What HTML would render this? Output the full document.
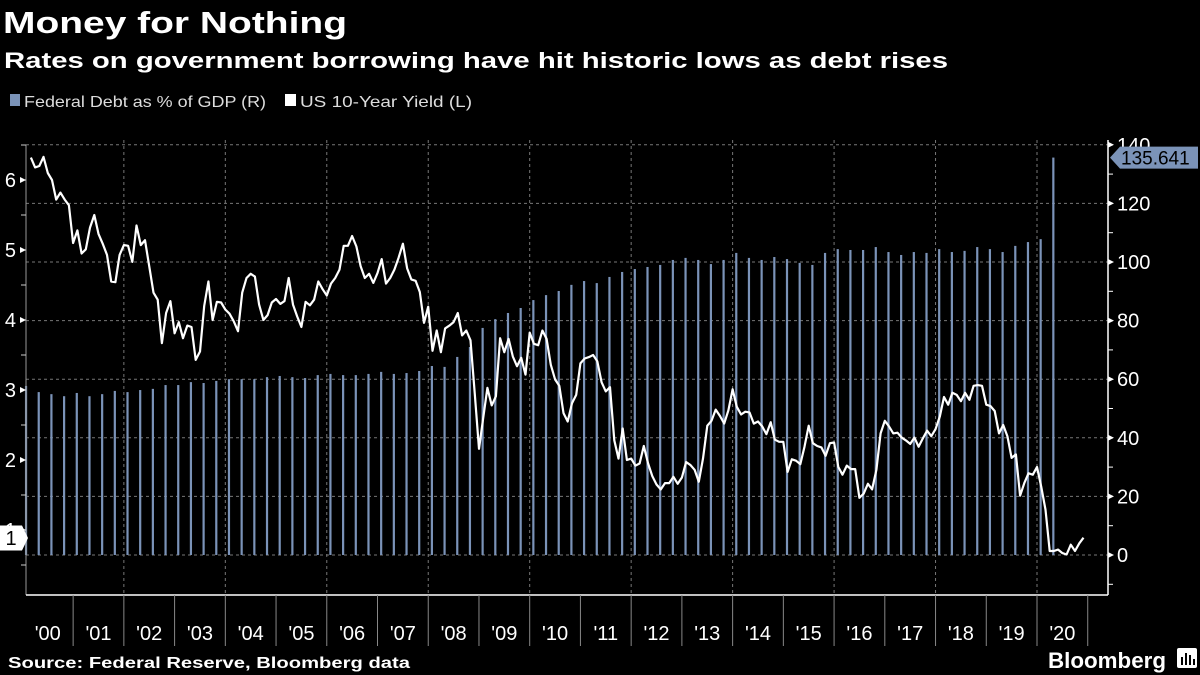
<!DOCTYPE html>
<html><head><meta charset="utf-8"><style>
html,body{margin:0;padding:0;background:#000;}
svg{display:block;font-family:"Liberation Sans",sans-serif;}
</style></head><body>
<svg id="chart" width="1200" height="675" viewBox="0 0 1200 675" xmlns="http://www.w3.org/2000/svg">
<rect width="1200" height="675" fill="#000"/>
<text x="3" y="33" fill="#fff" font-weight="bold" font-size="31" textLength="344" lengthAdjust="spacingAndGlyphs">Money for Nothing</text>
<text x="4" y="68" fill="#fff" font-weight="bold" font-size="22" textLength="944" lengthAdjust="spacingAndGlyphs">Rates on government borrowing have hit historic lows as debt rises</text>
<g>
<rect x="10" y="94" width="10" height="12" fill="#7b93b8"/>
<text x="24" y="107" fill="#ddd" font-size="16" textLength="242" lengthAdjust="spacingAndGlyphs">Federal Debt as % of GDP (R)</text>
<rect x="285" y="94" width="11" height="12" fill="#fff"/>
<text x="300" y="107" fill="#ddd" font-size="16" textLength="172" lengthAdjust="spacingAndGlyphs">US 10-Year Yield (L)</text>
</g>
<g id="plot"></g>
<text x="8" y="668" fill="#fff" font-weight="bold" font-size="16" textLength="402" lengthAdjust="spacingAndGlyphs">Source: Federal Reserve, Bloomberg data</text>
<text x="1048" y="668" fill="#fff" font-weight="bold" font-size="22" textLength="118" lengthAdjust="spacingAndGlyphs">Bloomberg</text>
<g>
<rect x="1177" y="648" width="20" height="20" rx="2" fill="#fff"/>
<rect x="1181" y="657" width="2" height="8" fill="#000"/><rect x="1185" y="653" width="2" height="12" fill="#000"/><rect x="1189" y="655" width="2" height="10" fill="#000"/><rect x="1193" y="659" width="2" height="6" fill="#000"/>
</g>
</svg>
<script>
const years = ['00','01','02','03','04','05','06','07','08','09','10','11','12','13','14','15','16','17','18','19','20'];
const debtQuarterStart = 2000;
const debtValues = [57.7,55.6,54.9,54.2,55.3,54.2,54.9,56,55.6,56.3,56.7,58,58,59,58.7,59.4,60,60,60,60.7,61.1,60.7,
60.4,61.4,61.8,61.4,61.4,61.8,62.5,61.8,62.1,62.8,64.5,64.2,67.6,71,77.5,80.5,82.6,84.3,87,88.7,90.1,
92.2,93.5,92.8,94.9,96.6,97.6,98.3,99,100.7,101.4,100.7,99.3,100.7,103.1,101.4,100.7,101.7,101,99.7,99,103.1,104.4,
104.1,104.1,105.1,103.4,102.4,103.4,103.1,104.4,103.4,103.8,105.1,104.4,103.4,105.5,106.8,107.8,135.641];
const yieldStartMonth = 2; // Feb 2000 (month-end)
const yieldValues = [6.32,6.18,6.20,6.33,6.10,6.0,5.72,5.82,5.72,5.64,5.10,5.28,4.95,5.01,5.32,5.50,5.23,5.09,4.93,4.55,
4.54,4.93,5.07,5.06,4.83,5.35,5.07,5.14,4.77,4.39,4.29,3.67,4.10,4.27,3.81,3.97,3.74,3.92,3.90,3.43,
3.55,4.20,4.55,4.0,4.26,4.25,4.15,4.09,3.98,3.84,4.39,4.60,4.66,4.62,4.22,4.0,4.07,4.25,4.30,4.23,
4.27,4.60,4.22,4.05,3.90,4.26,4.21,4.29,4.55,4.44,4.35,4.52,4.60,4.72,5.06,5.06,5.20,5.05,4.77,4.60,
4.66,4.53,4.67,4.87,4.52,4.60,4.72,4.89,5.09,4.74,4.58,4.56,4.40,3.96,4.19,3.56,3.85,3.54,3.88,3.92,
3.97,4.10,3.78,3.85,3.71,2.96,2.16,2.60,3.03,2.78,2.91,3.74,3.54,3.73,3.48,3.34,3.46,3.22,3.82,3.66,
3.64,3.85,3.73,3.36,3.15,3.06,2.67,2.55,2.81,2.93,3.38,3.45,3.47,3.50,3.41,3.11,2.98,3.04,2.28,2.02,
2.45,2.00,2.02,1.92,1.95,2.20,1.95,1.77,1.65,1.58,1.67,1.67,1.76,1.66,1.75,1.97,1.93,1.86,1.69,2.02,
2.49,2.56,2.72,2.63,2.52,2.71,3.01,2.76,2.65,2.69,2.68,2.52,2.55,2.48,2.37,2.54,2.29,2.26,2.26,1.83,
2.01,1.99,1.94,2.19,2.49,2.24,2.20,2.18,2.06,2.24,2.25,1.90,1.79,1.92,1.87,1.87,1.46,1.52,1.66,1.58,
1.86,2.38,2.56,2.48,2.38,2.39,2.32,2.28,2.23,2.32,2.19,2.31,2.42,2.34,2.44,2.62,2.90,2.79,2.96,2.93,
2.84,2.96,2.86,3.06,3.07,3.06,2.79,2.77,2.70,2.38,2.50,2.34,2.03,2.08,1.49,1.67,1.81,1.79,1.90,1.62,
1.29,0.70,0.70,0.72,0.67,0.65,0.79,0.70,0.81,0.89];
const leftTicks = [1,2,3,4,5,6];
const rightTicks = [0,20,40,60,80,100,120,140];

const NS='http://www.w3.org/2000/svg';
const plot=document.getElementById('plot');
const X0=26, X1=1108, YB=595, YT=145;
function xScale(t){return 22.4+(t-2000)*50.73;}
function yL(v){return 180+(6-v)*70;}
function yR(v){return 555-v*2.93;}
function mk(tag,attrs,parent){const e=document.createElementNS(NS,tag);for(const k in attrs)e.setAttribute(k,attrs[k]);(parent||plot).appendChild(e);return e;}

rightTicks.forEach(v=>{
  const g=mk('line',{x1:X0,x2:X1,y1:yR(v),y2:yR(v),stroke:'#777','stroke-dasharray':'3,3','stroke-width':1});
  
  
});
for(let y=2002;y<=2020;y+=2){
  const g=mk('line',{x1:xScale(y),x2:xScale(y),y1:YT-5,y2:YB,stroke:'#777','stroke-dasharray':'3,3','stroke-width':1});
  
  
}
debtValues.forEach((v,i)=>{
  const x=xScale(debtQuarterStart+i*0.25+0.07);
  const b=mk('rect',{x:x-1,y:yR(v),width:2.2,height:yR(0)-yR(v),fill:'#7b93b8'});
  
  
});
const pts=yieldValues.map((v,i)=>xScale(2000+(yieldStartMonth+i)/12).toFixed(1)+','+yL(v).toFixed(1)).join(' ');
const ln=mk('polyline',{points:pts,fill:'none',stroke:'#fff','stroke-width':2.2,'stroke-linejoin':'round'});



const la=mk('line',{x1:X0,x2:X0,y1:YT,y2:YB,stroke:'#999','stroke-width':1});


for(let v=0.5;v<=6.5;v+=0.5){
  const t=mk('line',{x1:X0-5,x2:X0,y1:yL(v),y2:yL(v),stroke:'#ccc','stroke-width':1});
  
  
}
leftTicks.forEach(v=>{
  const tri=mk('path',{d:`M${X0-6},${yL(v)-3}L${X0},${yL(v)}L${X0-6},${yL(v)+3}Z`,fill:'#fff'});
  
  
  const t=mk('text',{x:X0-10,y:yL(v)+7,fill:'#fff','font-size':20,'text-anchor':'end'});
  t.textContent=v;
  
  
});
const ra=mk('line',{x1:X1,x2:X1,y1:YT-5,y2:YB,stroke:'#fff','stroke-width':1.5});


for(let v=-10;v<=140;v+=10){
  const t=mk('line',{x1:X1,x2:X1+5,y1:yR(v),y2:yR(v),stroke:'#fff','stroke-width':1});
  
  
}
rightTicks.forEach(v=>{
  const tri=mk('path',{d:`M${X1},${yR(v)-3}L${X1+6},${yR(v)}L${X1},${yR(v)+3}Z`,fill:'#fff'});
  
  
  const t=mk('text',{x:X1+9,y:yR(v)+7,fill:'#fff','font-size':20});
  t.textContent=v;
  
  
});
const xa=mk('line',{x1:X0,x2:X1,y1:YB,y2:YB,stroke:'#fff','stroke-width':1.5});


years.forEach((lab,i)=>{
  const y=2000+i;
  if(i>0){
    const s=mk('line',{x1:xScale(y),x2:xScale(y),y1:YB,y2:646,stroke:'#888','stroke-width':1});
    
    
  }
  const t=mk('text',{x:xScale(y+0.5),y:640,fill:'#fff','font-size':20,'text-anchor':'middle'});
  t.textContent="'"+lab;
  
  
});
const s2=mk('line',{x1:xScale(2021),x2:xScale(2021),y1:YB,y2:646,stroke:'#888','stroke-width':1});



const lastDebt=debtValues[debtValues.length-1];
const dy=yR(lastDebt);
const db=mk('path',{d:`M${X1+2},${dy}L${X1+12},${dy-11}H1198V${dy+11}H${X1+12}Z`,fill:'#7b93b8'});


const dt=mk('text',{x:X1+13,y:dy+7,fill:'#000','font-size':19});
dt.textContent=lastDebt.toFixed(3);


const lastY=yieldValues[yieldValues.length-1];
const ly=538;
const yb=mk('path',{d:`M0,${ly-12.5}H22L28,${ly}L22,${ly+12.5}H0Z`,fill:'#fff'});


const yt=mk('text',{x:11,y:ly+7,fill:'#000','font-size':20,'text-anchor':'middle'});
yt.textContent=Math.round(lastY);


</script>
</body></html>
